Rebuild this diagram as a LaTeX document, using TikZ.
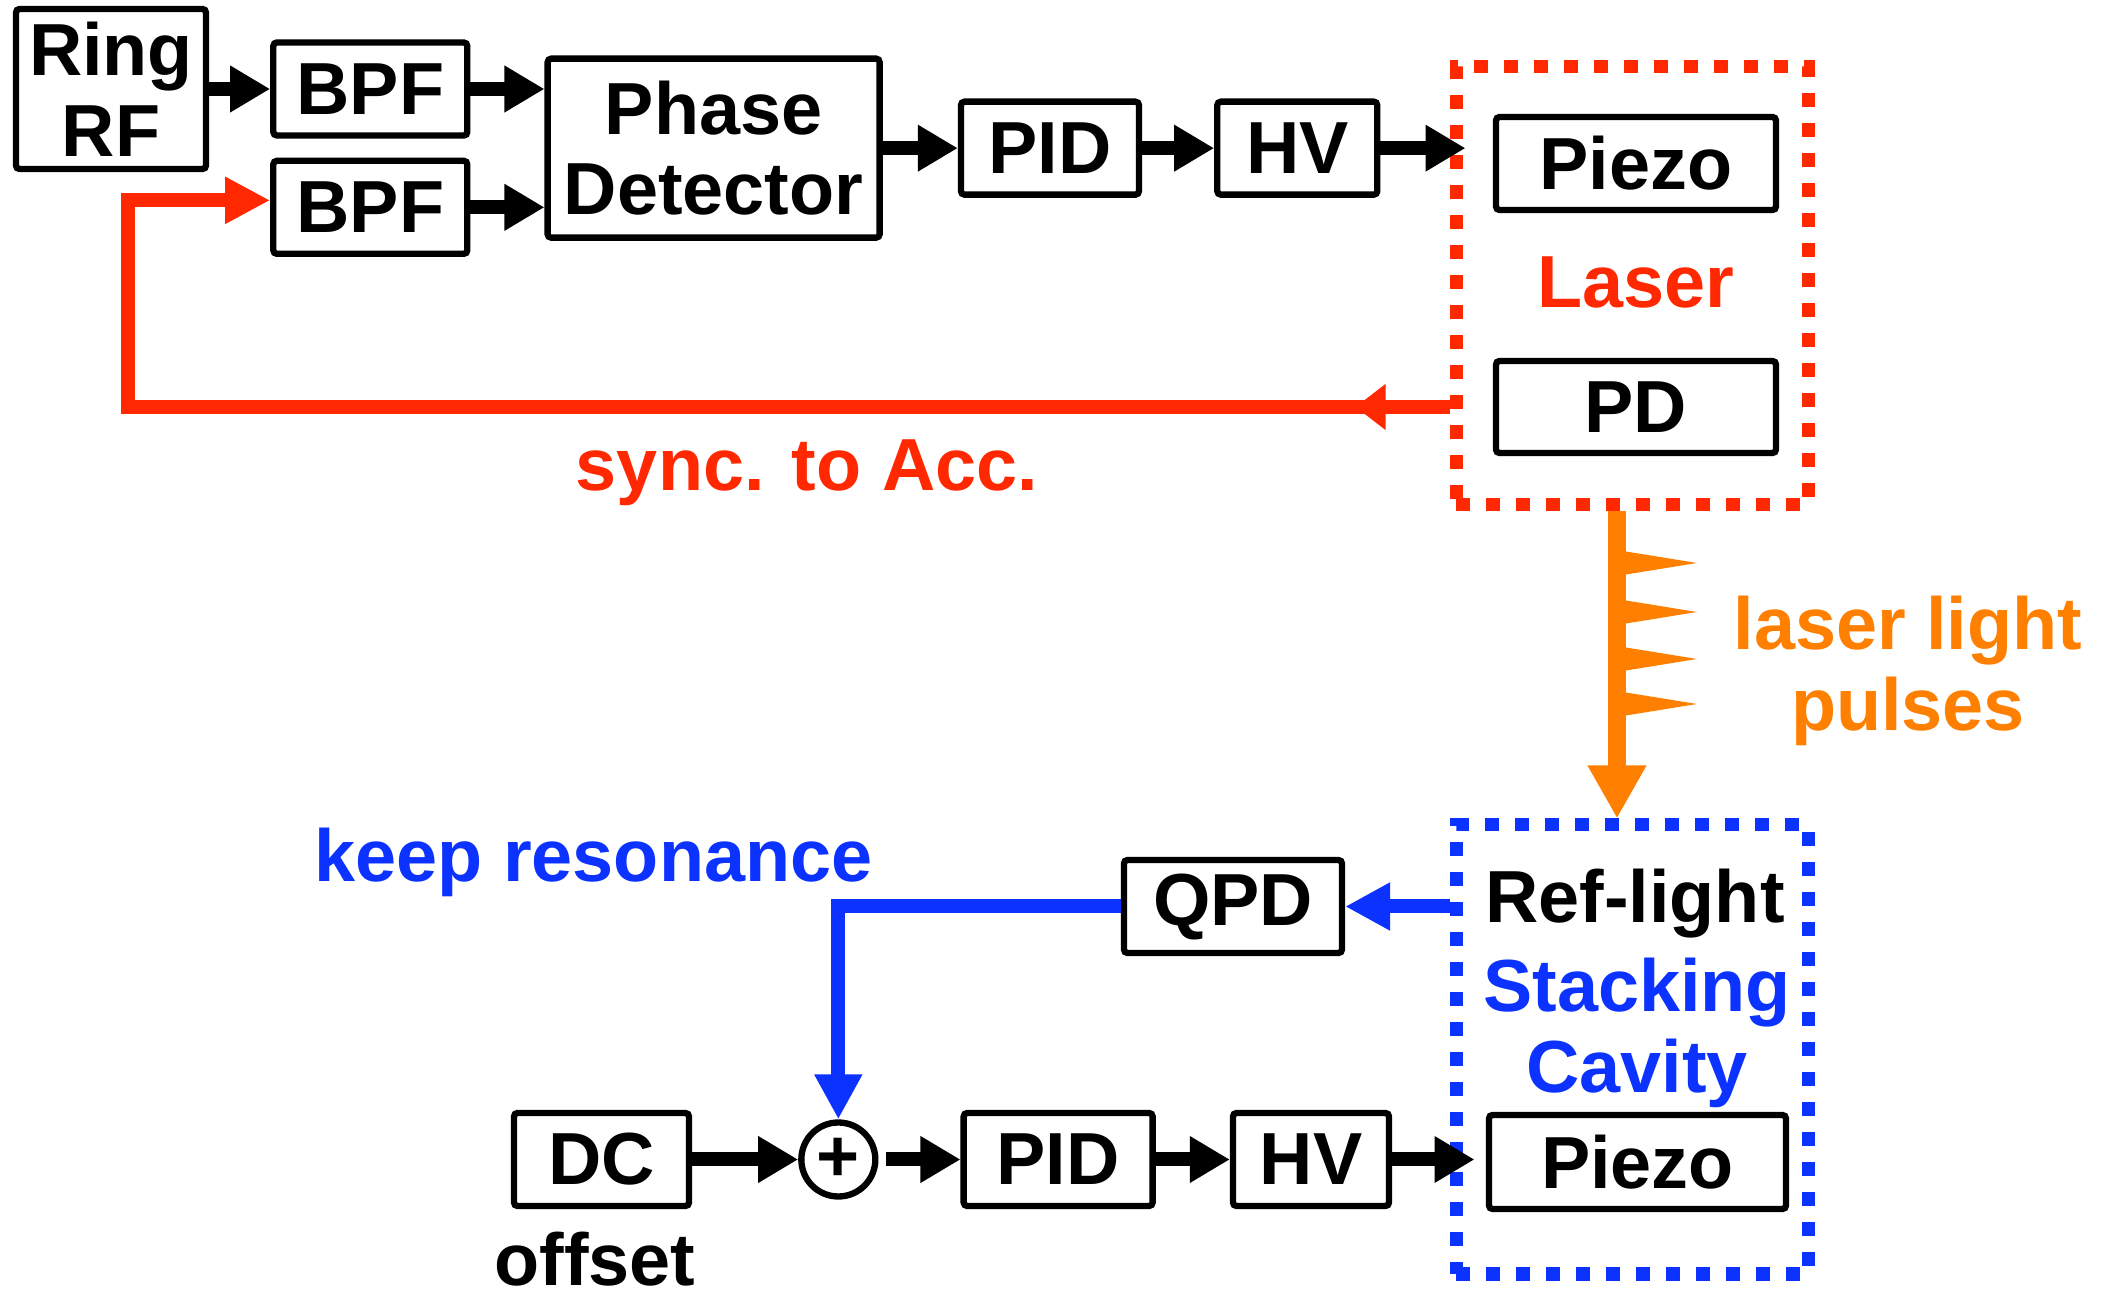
\documentclass[tikz,border=0pt]{standalone}
\usepackage{fontspec}
\setmainfont{Liberation Sans}
\usetikzlibrary{arrows.meta,positioning,calc}
\definecolor{LaserRed}{RGB}{255,40,0}
\definecolor{PulseOrange}{RGB}{255,128,0}
\definecolor{CavityBlue}{RGB}{12,50,255}
\tikzset{
  box/.style={rectangle, rounded corners=1pt, draw=black, line width=1.8pt,
    align=center, inner sep=0pt, minimum height=0.93cm},
  sumnode/.style={circle, draw=black, line width=1.8pt, inner sep=0pt, minimum size=0.74cm},
  laserframe/.style={rectangle, draw=LaserRed, line width=3.7pt,
    dash pattern=on 0.14cm off 0.16cm, minimum width=3.52cm},
  cavityframe/.style={rectangle, draw=CavityBlue, line width=3.7pt,
    dash pattern=on 0.14cm off 0.16cm, minimum width=3.52cm},
  arrow/.style={-{Triangle[length=0.40cm,width=0.44cm]}, line width=0.14cm, draw=black},
  fbarrow/.style={-{Triangle[length=0.45cm,width=0.44cm]}, line width=0.14cm, draw=LaserRed, line join=miter},
  lockarrow/.style={-{Triangle[length=0.45cm,width=0.45cm]}, line width=0.14cm, draw=CavityBlue, line join=miter},
  beamarrow/.style={-{Triangle[length=0.53cm,width=0.55cm]}, line width=0.18cm, draw=PulseOrange},
  pulse/.style={fill=PulseOrange}
}

\begin{document}
\begin{tikzpicture}[
  node distance=0.6cm and 0.7cm,
  every node/.style={font=\fontsize{21}{23}\selectfont\bfseries}
]
  \useasboundingbox (0,0) rectangle (21.09,-12.94);

  \node[box, minimum width=1.90cm, minimum height=1.60cm] (ringrf) at (1.11,-0.89) {Ring\\RF};
  \node[box, minimum width=1.94cm, right=0.61cm of ringrf] (bpfa) {BPF};
  \node[box, minimum width=1.94cm, below=0.19cm of bpfa] (bpfb) {BPF};
  \coordinate (bpfmid) at ($(bpfa.east)!.5!(bpfb.east)$);
  \node[box, minimum width=3.32cm, minimum height=1.79cm, right=0.74cm of bpfmid] (phdet) {Phase\\Detector};
  \node[box, minimum width=1.78cm, right=0.75cm of phdet] (pida) {PID};
  \node[box, minimum width=1.60cm, right=0.72cm of pida] (hva) {HV};

  \node[laserframe, minimum height=4.38cm] (laser) at (16.32,-2.86) {};
  \node[box, minimum width=2.80cm] (piezoa) at (16.36,-1.635) {Piezo};
  \node[text=LaserRed, anchor=base] (lasertxt) at (16.36,-3.08) {Laser};
  \node[box, minimum width=2.80cm, minimum height=0.92cm] (pd) at (16.36,-4.07) {PD};
  \node[text=LaserRed, anchor=base] (synclbl) at (8.07,-4.91) {sync. to Acc.};

  \coordinate (beam) at (16.17,-5.05);
  \coordinate (fbturn) at (1.28,0);
  \node[text=PulseOrange, align=center] (pulselbl) at (19.08,-6.71) {laser light\\pulses};

  \node[cavityframe, minimum height=4.49cm] (cavity) at (16.32,-10.495) {};
  \node[anchor=base] (reflbl) at (16.35,-9.23) {Ref-light};
  \node[text=CavityBlue, align=center] (cavlbl) at (16.37,-10.33) {Stacking\\Cavity};
  \node[box, minimum width=2.97cm, minimum height=0.94cm] (piezob) at (16.375,-11.62) {Piezo};
  \node[box, minimum width=2.18cm] (qpd) at (12.33,-9.065) {QPD};
  \node[text=CavityBlue, anchor=base] (keeplbl) at (5.935,-8.82) {keep resonance};

  \node[box, minimum width=1.75cm] (dc) at (6.015,-11.595) {DC};
  \node[sumnode, right=1.06cm of dc] (sum) {+};
  \node[box, minimum width=1.89cm, right=0.82cm of sum] (pidb) {PID};
  \node[box, minimum width=1.56cm, right=0.74cm of pidb] (hvb) {HV};
  \node[anchor=base] (offlbl) at (5.95,-12.85) {offset};

  \draw[arrow] (ringrf) -- (bpfa);
  \draw[arrow] (bpfa) -- (bpfa -| phdet.west);
  \draw[arrow] (bpfb) -- (bpfb -| phdet.west);
  \draw[arrow] (phdet) -- (pida);
  \draw[arrow] (pida) -- (hva);
  \draw[arrow, shorten >=-0.16cm] (hva) -- (hva -| laser.west);

  \draw[fbarrow] (laser.west |- pd) -- (fbturn |- pd) |- ([yshift=0.07cm]bpfb.west);
  \draw[fbarrow, -{Triangle[length=0.30cm,width=0.44cm]}] (laser.west |- pd) -- ++(-0.94,0);

  \draw[beamarrow] (beam |- laser.south) -- (beam |- cavity.north);
  \foreach \y in {5.63,6.12,6.59,7.04}
    \fill[pulse] (16.26,{0.115-\y}) -- (16.97,-\y) -- (16.26,{-0.115-\y}) -- cycle;

  \draw[lockarrow] (cavity.west |- qpd) -- (qpd);
  \draw[lockarrow] (qpd) -| (sum);

  \draw[arrow] (dc) -- (sum);
  \draw[arrow, shorten <=2pt] (sum) -- (pidb);
  \draw[arrow] (pidb) -- (hvb);
  \draw[arrow, shorten >=-0.25cm] (hvb) -- (hvb -| cavity.west);
\end{tikzpicture}
\end{document}
